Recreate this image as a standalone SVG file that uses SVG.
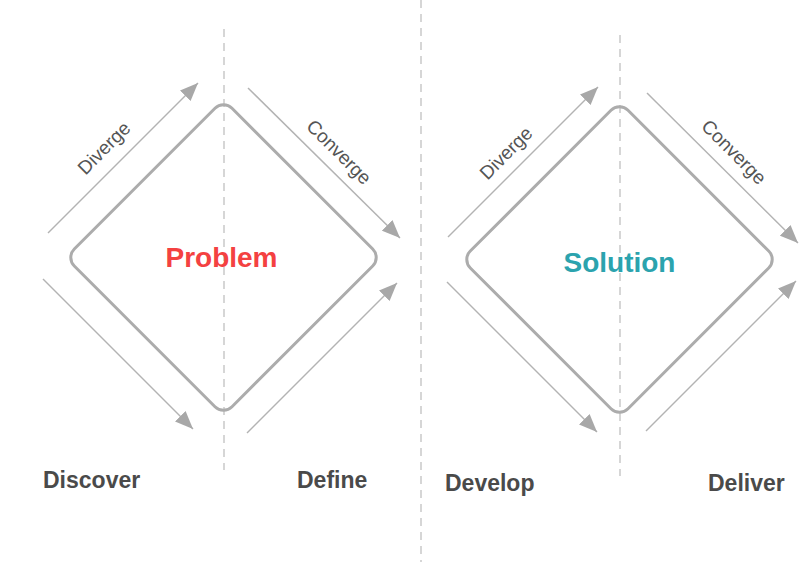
<svg xmlns="http://www.w3.org/2000/svg" width="811" height="562" viewBox="0 0 811 562">
<defs>
<style>
.dash{stroke:#cccccc;stroke-width:1.6;stroke-dasharray:8 6;fill:none}
.dia{fill:none;stroke:#acacac;stroke-width:3}
.arr{stroke:#b3b3b3;stroke-width:1.5;fill:none;marker-end:url(#ah)}
.lbl{font-family:"Liberation Sans",Arial,sans-serif;font-size:19px;fill:#555555;text-anchor:middle;dominant-baseline:central}
.phase{font-family:"Liberation Sans",Arial,sans-serif;font-size:23px;font-weight:bold;fill:#4a4a4a}
.title{font-family:"Liberation Sans",Arial,sans-serif;font-size:28px;font-weight:bold;text-anchor:middle}
</style>
<marker id="ah" markerUnits="userSpaceOnUse" markerWidth="19" markerHeight="15" refX="18" refY="7.5" orient="auto">
<path d="M0,0 L18,7.5 L0,15 Z" fill="#a8a8a8"/>
</marker>
</defs>
<rect width="811" height="562" fill="#ffffff"/>
<g id="guides">
<line class="dash" x1="224" y1="29" x2="224" y2="470"/>
<line class="dash" x1="421" y1="0" x2="421" y2="562"/>
<line class="dash" x1="620" y1="35" x2="620" y2="476"/>
</g>
<g id="problem">
<rect class="dia" x="112" y="146" width="223" height="223" rx="12" transform="rotate(45 223.5 257.5)"/>
<text class="title" x="221.5" y="267" fill="#f44141">Problem</text>
</g>
<g id="solution">
<rect class="dia" x="508" y="148" width="223" height="223" rx="12" transform="rotate(45 619.5 259.5)"/>
<text class="title" x="619.5" y="272" fill="#2ba3ae">Solution</text>
</g>
<g id="connectors">
<line class="arr" x1="48" y1="233" x2="198" y2="83"/>
<line class="arr" x1="248" y1="88" x2="400" y2="238"/>
<line class="arr" x1="43" y1="279" x2="193" y2="429"/>
<line class="arr" x1="247" y1="433" x2="397" y2="283"/>
<line class="arr" x1="448" y1="237" x2="598" y2="87"/>
<line class="arr" x1="647" y1="93" x2="798" y2="243"/>
<line class="arr" x1="447" y1="282" x2="597" y2="432"/>
<line class="arr" x1="646" y1="431" x2="796" y2="281"/>
</g>
<g id="arrow-labels">
<text class="lbl" transform="translate(104 148) rotate(-45)">Diverge</text>
<text class="lbl" transform="translate(339 152) rotate(45)">Converge</text>
<text class="lbl" transform="translate(506 153) rotate(-45)">Diverge</text>
<text class="lbl" transform="translate(734 152) rotate(45)">Converge</text>
</g>
<g id="phases">
<text class="phase" x="43" y="488">Discover</text>
<text class="phase" x="297" y="488">Define</text>
<text class="phase" x="445" y="491">Develop</text>
<text class="phase" x="708" y="491">Deliver</text>
</g>
</svg>
